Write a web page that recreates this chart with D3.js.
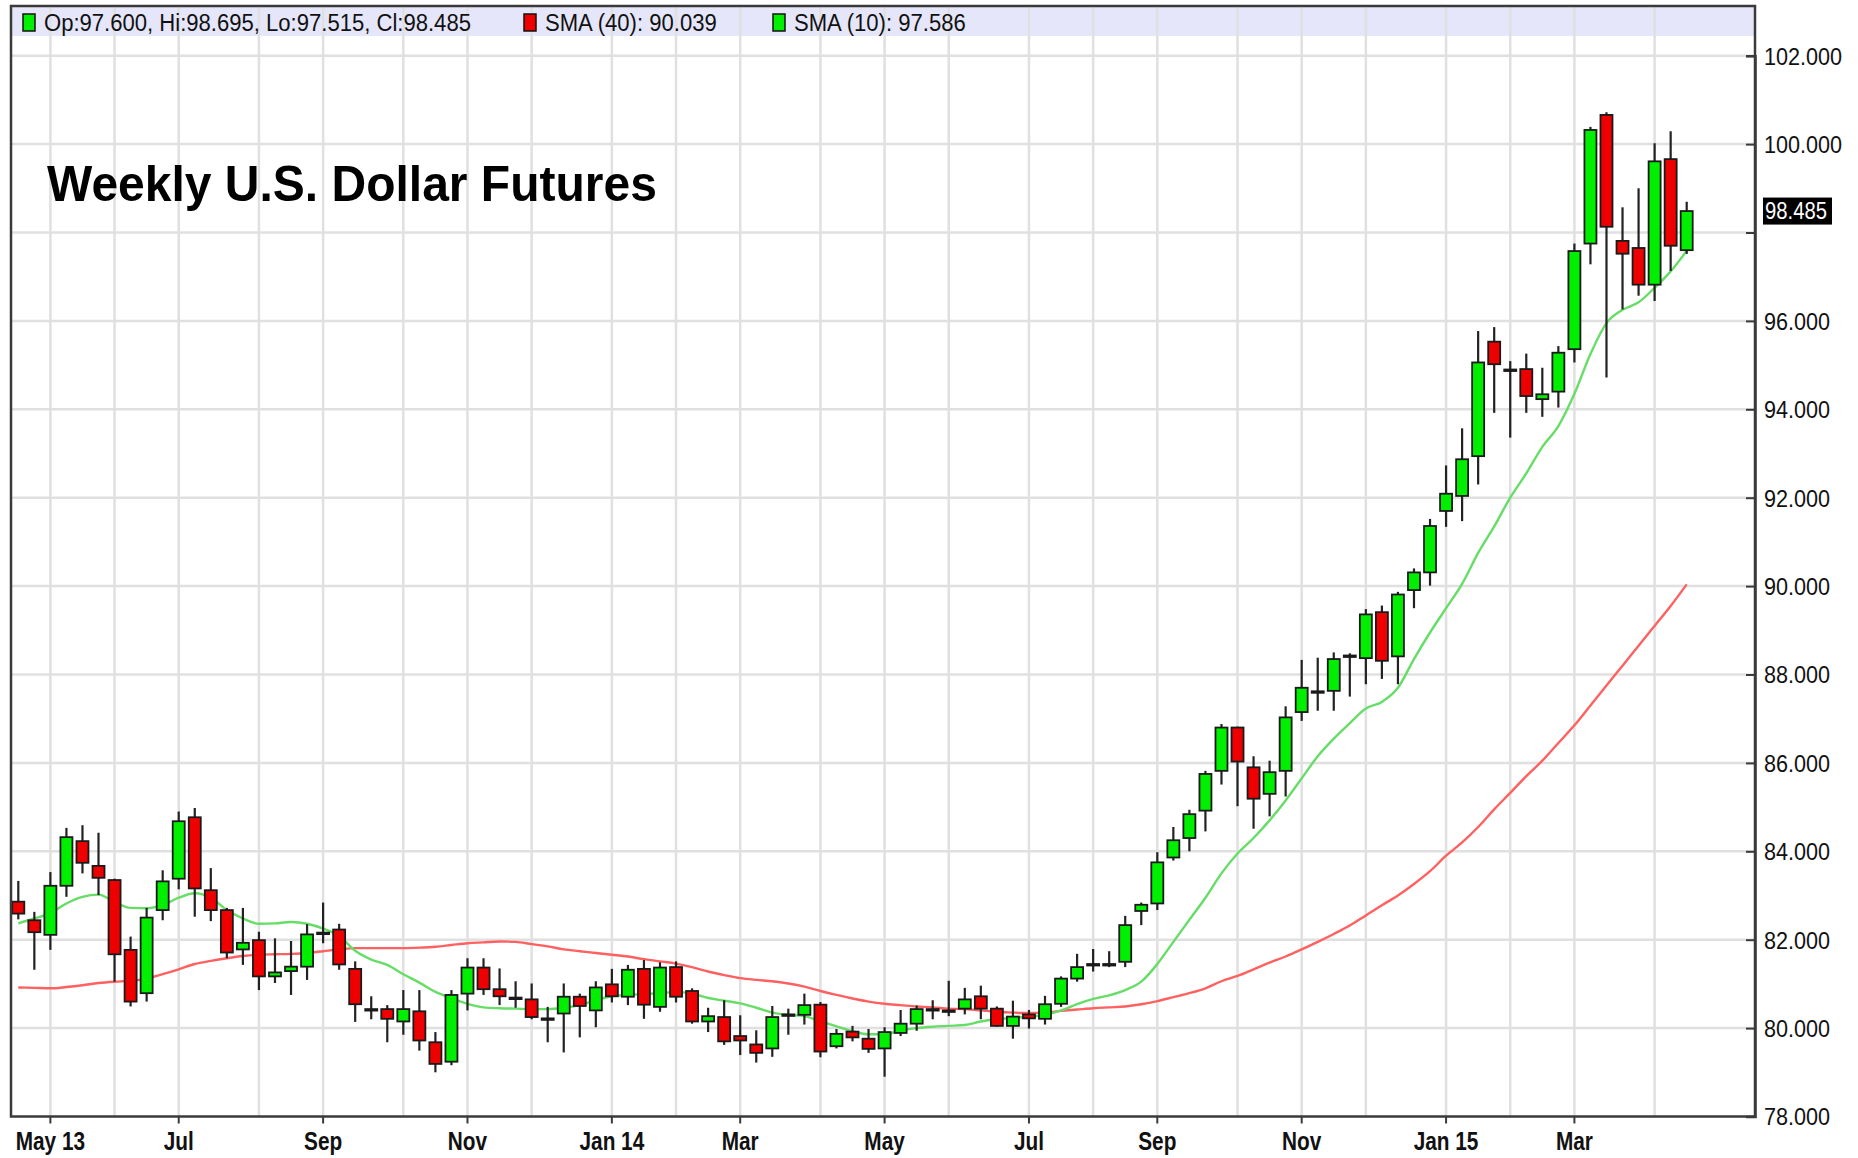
<!DOCTYPE html>
<html><head><meta charset="utf-8">
<script src="https://cdn.jsdelivr.net/npm/d3@7"></script>
<style>html,body{margin:0;padding:0;background:#fff;}svg{display:block;font-family:"Liberation Sans",Arial,sans-serif;}</style>
</head><body>
<svg id="chart" width="1858" height="1158"></svg>
<script>
// ---- DATA (weekly U.S. Dollar Index futures) ----
const dates = [
"2013-04-22","2013-04-29","2013-05-06","2013-05-13","2013-05-20","2013-05-27","2013-06-03","2013-06-10","2013-06-17","2013-06-24",
"2013-07-01","2013-07-08","2013-07-15","2013-07-22","2013-07-29","2013-08-05","2013-08-12","2013-08-19","2013-08-26","2013-09-02",
"2013-09-09","2013-09-16","2013-09-23","2013-09-30","2013-10-07","2013-10-14","2013-10-21","2013-10-28","2013-11-04","2013-11-11",
"2013-11-18","2013-11-25","2013-12-02","2013-12-09","2013-12-16","2013-12-23","2013-12-30","2014-01-06","2014-01-13","2014-01-20",
"2014-01-27","2014-02-03","2014-02-10","2014-02-17","2014-02-24","2014-03-03","2014-03-10","2014-03-17","2014-03-24","2014-03-31",
"2014-04-07","2014-04-14","2014-04-21","2014-04-28","2014-05-05","2014-05-12","2014-05-19","2014-05-26","2014-06-02","2014-06-09",
"2014-06-16","2014-06-23","2014-06-30","2014-07-07","2014-07-14","2014-07-21","2014-07-28","2014-08-04","2014-08-11","2014-08-18",
"2014-08-25","2014-09-01","2014-09-08","2014-09-15","2014-09-22","2014-09-29","2014-10-06","2014-10-13","2014-10-20","2014-10-27",
"2014-11-03","2014-11-10","2014-11-17","2014-11-24","2014-12-01","2014-12-08","2014-12-15","2014-12-22","2014-12-29","2015-01-05",
"2015-01-12","2015-01-19","2015-01-26","2015-02-02","2015-02-09","2015-02-16","2015-02-23","2015-03-02","2015-03-09","2015-03-16",
"2015-03-23","2015-03-30","2015-04-06","2015-04-13","2015-04-20"];

const open = [
82.86,82.44,82.11,83.22,84.23,83.67,83.35,81.77,80.79,82.67,
83.38,84.77,83.12,82.67,81.78,81.99,81.17,81.29,81.39,82.14,
82.23,81.34,80.41,80.43,80.15,80.38,79.68,79.24,80.78,81.37,
80.88,80.69,80.65,80.21,80.33,80.71,80.40,80.99,80.71,81.34,
80.48,81.38,80.84,80.15,80.25,79.82,79.63,79.54,80.29,80.30,
80.53,79.59,79.92,79.76,79.54,79.89,80.10,80.41,80.38,80.44,
80.72,80.44,80.05,80.31,80.21,80.55,81.12,81.43,81.43,81.50,
82.65,82.82,83.86,84.30,84.92,85.82,86.80,85.90,85.30,85.82,
87.15,87.62,87.63,88.40,88.37,89.41,88.41,89.91,90.31,91.70,
92.04,92.94,95.53,94.90,94.91,94.23,94.40,95.36,97.75,100.66,
97.81,97.65,96.82,99.66,97.600];
const high = [
83.33,82.63,83.53,84.53,84.59,84.42,83.38,82.07,82.72,83.57,
84.90,84.98,83.62,82.72,82.72,82.18,82.03,81.97,82.35,82.84,
82.36,81.51,80.72,80.52,80.86,80.86,79.91,80.86,81.58,81.58,
81.35,81.06,81.01,80.48,81.01,80.78,81.06,81.34,81.43,81.54,
81.49,81.51,80.90,80.46,80.63,80.29,79.95,80.50,80.44,80.78,
80.59,79.98,80.05,79.98,80.02,80.41,80.51,80.63,81.07,80.91,
80.96,80.49,80.62,80.41,80.73,81.17,81.68,81.79,81.74,82.54,
82.84,83.98,84.55,84.94,85.82,86.88,86.82,86.15,86.05,87.28,
88.33,88.38,88.50,88.48,89.48,89.56,89.87,90.40,91.52,92.73,
93.57,95.77,95.86,95.09,95.26,94.94,95.43,97.75,100.39,100.72,
98.57,99.00,100.02,100.29,98.695];
const low = [
82.46,81.32,81.77,82.97,83.50,83.01,81.05,80.49,80.60,82.44,
83.14,82.52,82.42,81.58,81.43,80.86,81.02,80.75,81.09,81.92,
81.32,80.14,80.20,79.68,79.85,79.49,79.00,79.16,80.40,80.75,
80.52,80.46,80.20,79.68,79.45,79.79,80.02,80.58,80.52,80.21,
80.37,80.58,80.10,79.91,79.62,79.39,79.22,79.35,79.85,80.08,
79.34,79.54,79.70,79.44,78.90,79.82,79.94,80.20,80.27,80.31,
80.20,80.03,79.76,79.99,80.08,80.48,81.05,81.28,81.38,81.38,
82.33,82.67,83.79,84.00,84.45,85.51,85.02,84.51,84.79,85.24,
86.95,87.18,87.18,87.50,87.78,87.90,87.78,89.50,90.01,91.34,
91.47,92.30,93.92,93.36,93.92,93.83,94.04,95.06,97.28,94.72,
96.26,96.57,96.45,97.13,97.515];
const close = [
82.59,82.17,83.22,84.32,83.74,83.40,81.67,80.60,82.50,83.32,
84.68,83.16,82.67,81.71,81.93,81.17,81.26,81.39,82.12,82.16,
81.44,80.54,80.43,80.21,80.43,79.72,79.19,80.75,81.37,80.88,
80.72,80.67,80.25,80.22,80.71,80.50,80.92,80.72,81.32,80.53,
81.37,80.71,80.15,80.27,79.70,79.72,79.44,80.25,80.31,80.52,
79.47,79.87,79.79,79.53,79.91,80.10,80.43,80.43,80.40,80.65,
80.44,80.05,80.26,80.22,80.54,81.12,81.38,81.45,81.45,82.33,
82.79,83.75,84.25,84.84,85.75,86.80,86.03,85.19,85.79,87.03,
87.70,87.60,88.35,88.43,89.36,88.31,89.81,90.31,91.36,92.09,
92.87,95.06,95.02,94.87,94.30,94.34,95.28,97.58,100.32,98.13,
97.52,96.82,99.61,97.70,98.485];

const sma40 = [
80.92,80.91,80.90,80.93,80.97,81.02,81.05,81.07,81.12,81.22,
81.33,81.45,81.52,81.58,81.63,81.66,81.67,81.68,81.70,81.74,
81.78,81.81,81.81,81.81,81.81,81.82,81.84,81.88,81.92,81.94,
81.96,81.95,81.90,81.85,81.78,81.74,81.70,81.66,81.62,81.56,
81.51,81.46,81.38,81.28,81.20,81.13,81.09,81.06,81.01,80.94,
80.84,80.75,80.67,80.60,80.55,80.52,80.49,80.47,80.44,80.43,
80.40,80.37,80.35,80.34,80.35,80.39,80.42,80.45,80.47,80.49,
80.54,80.61,80.70,80.79,80.90,81.06,81.18,81.33,81.48,81.62,
81.78,81.95,82.13,82.32,82.55,82.78,83.00,83.26,83.55,83.90,
84.20,84.55,84.95,85.32,85.70,86.05,86.45,86.85,87.30,87.75,
88.20,88.65,89.10,89.55,90.039];
const sma10 = [
82.37,82.48,82.60,82.82,82.97,83.02,82.85,82.72,82.71,82.78,
82.95,83.05,82.95,82.67,82.48,82.36,82.37,82.40,82.36,82.25,
82.08,81.75,81.55,81.43,81.22,81.03,80.82,80.68,80.55,80.47,
80.45,80.44,80.43,80.43,80.46,80.52,80.63,80.72,80.75,80.77,
80.79,80.82,80.78,80.68,80.62,80.56,80.46,80.35,80.30,80.27,
80.15,80.04,79.93,79.86,79.86,79.95,80.00,80.03,80.05,80.07,
80.15,80.20,80.23,80.26,80.30,80.40,80.54,80.66,80.74,80.86,
81.05,81.45,81.95,82.45,82.95,83.50,83.95,84.30,84.70,85.15,
85.65,86.15,86.55,86.90,87.23,87.38,87.70,88.35,88.95,89.50,
90.05,90.75,91.35,92.00,92.55,93.15,93.62,94.35,95.25,95.95,
96.25,96.42,96.75,97.12,97.586];

const priceTicks = [78,80,82,84,86,88,90,92,94,96,98,100,102];
const monthLabels = ["May 13","Jul","Sep","Nov","Jan 14","Mar","May","Jul","Sep","Nov","Jan 15","Mar"];
const title = "Weekly U.S. Dollar Futures";

// ---- LAYOUT ----
const L = 11, R = 1755, T = 6, B = 1116.5;
const svg = d3.select("#chart");
const fmt = d3.format(".3f");
const parse = d3.timeParse("%Y-%m-%d");
const dd = dates.map(parse);

const x = d3.scalePoint().domain(dates).range([18.3, 1686.7]);
const y = d3.scaleLinear().domain([78, 102]).range([B, 55.7]);

svg.append("rect").attr("width",1858).attr("height",1158).attr("fill","#fff");
// legend band
svg.append("rect").attr("x",L).attr("y",T).attr("width",R-L).attr("height",30).attr("fill","#e6e6fa");

// month starts
const monthStarts = [];
for (let i = 1; i < dates.length; i++) if (dd[i].getMonth() !== dd[i-1].getMonth()) monthStarts.push(dates[i]);

const grid = svg.append("g").attr("stroke","#e0e0e0").attr("stroke-width",2.5);
grid.selectAll("line.h").data(priceTicks.filter(v=>v>78)).join("line")
  .attr("x1",L).attr("x2",R).attr("y1",d=>y(d)).attr("y2",d=>y(d));
grid.selectAll("line.v").data(monthStarts).join("line").attr("class","v")
  .attr("x1",d=>x(d)).attr("x2",d=>x(d)).attr("y1",T).attr("y2",B);

// moving averages
const line = d3.line().x((d,i)=>x(dates[i])).y(d=>y(d)).curve(d3.curveMonotoneX);
svg.append("path").datum(sma40).attr("d",line).attr("fill","none").attr("stroke","#ff6060").attr("stroke-width",2.4);
svg.append("path").datum(sma10).attr("d",line).attr("fill","none").attr("stroke","#66dd66").attr("stroke-width",2.4);

// candles
const candles = dates.map((d,i)=>({d, o:open[i], h:high[i], l:low[i], c:close[i]}));
const bw = 12;
const cg = svg.append("g");
cg.selectAll("line.wick").data(candles).join("line").attr("class","wick")
  .attr("x1",d=>x(d.d)).attr("x2",d=>x(d.d)).attr("y1",d=>y(d.h)).attr("y2",d=>y(d.l))
  .attr("stroke","#222").attr("stroke-width",2.2);
cg.selectAll("rect.body").data(candles).join("rect").attr("class","body")
  .attr("x",d=>x(d.d)-bw/2).attr("width",bw)
  .attr("y",d=>y(Math.max(d.o,d.c)))
  .attr("height",d=>Math.max(1.5, Math.abs(y(d.o)-y(d.c))))
  .attr("fill",d=>d.c>=d.o?"#00ee00":"#ee0000")
  .attr("stroke","#1a1a1a").attr("stroke-width",1.8);

// frame
svg.append("rect").attr("x",L).attr("y",T).attr("width",R-L).attr("height",B-T)
  .attr("fill","none").attr("stroke","#3a3a3a").attr("stroke-width",2.5);

// y axis (right)
const yAxis = svg.append("g").attr("transform",`translate(${R},0)`)
  .call(d3.axisRight(y).tickValues(priceTicks).tickFormat(fmt).tickSize(-9).tickPadding(0));
yAxis.select(".domain").attr("stroke","#3a3a3a").attr("stroke-width",2.5);
yAxis.selectAll(".tick line").attr("stroke","#3a3a3a").attr("stroke-width",2);
const lastClose = close[close.length-1];
yAxis.selectAll(".tick text")
  .attr("x",0).attr("dy","0.35em")
  .attr("transform","translate(9,0) scale(0.9,1)")
  .attr("font-size",24).attr("fill","#111")
  .style("font-family","'Liberation Sans',Arial,sans-serif")
  .attr("display",d=>Math.abs(y(d)-y(lastClose))<22?"none":null);

// last price tag
const tag = svg.append("g").attr("transform",`translate(${R+8},${y(lastClose)})`);
tag.append("rect").attr("x",0).attr("y",-13.5).attr("width",69).attr("height",27).attr("fill","#000");
tag.append("text").attr("x",0).attr("y",0).attr("dy","0.36em").attr("fill","#fff")
  .attr("font-size",23).attr("transform","translate(2,0) scale(0.88,1)").text(fmt(lastClose));

// x axis
const xg = svg.append("g");
const labeled = monthStarts.filter((d,i)=>i%2===0);
xg.selectAll("line").data(labeled).join("line")
  .attr("x1",d=>x(d)).attr("x2",d=>x(d)).attr("y1",B).attr("y2",B+7)
  .attr("stroke","#3a3a3a").attr("stroke-width",2);
xg.selectAll("text").data(labeled).join("text")
  .attr("transform",d=>`translate(${x(d)},${B+33}) scale(0.8,1)`)
  .attr("text-anchor","middle").attr("font-size",26).attr("font-weight","bold").attr("fill","#111")
  .text((d,i)=>monthLabels[i]);

// title
svg.append("text").attr("transform","translate(47,201) scale(0.96,1)")
  .attr("font-size",50).attr("font-weight","bold").attr("fill","#000").text(title);

// legend
const legend = [
  {color:"#00ee00", text:`Op:${fmt(open[open.length-1])}, Hi:${fmt(high[high.length-1])}, Lo:${fmt(low[low.length-1])}, Cl:${fmt(lastClose)}`, x:23},
  {color:"#ee0000", text:`SMA (40): ${fmt(sma40[sma40.length-1])}`, x:524},
  {color:"#00ee00", text:`SMA (10): ${fmt(sma10[sma10.length-1])}`, x:773}
];
const lg = svg.append("g").selectAll("g").data(legend).join("g").attr("transform",d=>`translate(${d.x},0)`);
lg.append("rect").attr("x",0).attr("y",14).attr("width",12).attr("height",17)
  .attr("fill",d=>d.color).attr("stroke","#111").attr("stroke-width",1.5);
lg.append("text").attr("transform","translate(21,31) scale(0.96,1)").attr("font-size",23).attr("fill","#111").text(d=>d.text);
</script>
</body></html>
